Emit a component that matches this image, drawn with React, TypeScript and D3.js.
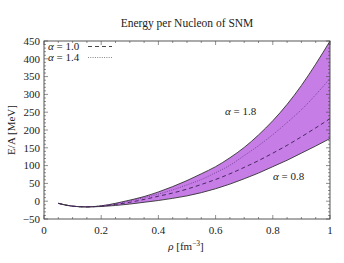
import React from "react";
import * as d3 from "d3";

const rho = [0.05, 0.1, 0.15, 0.2, 0.25, 0.3, 0.35, 0.4, 0.45, 0.5, 0.55, 0.6, 0.65, 0.7, 0.75, 0.8, 0.85, 0.9, 0.95, 1.0];
const alpha18 = [-6, -14, -16, -13, -6, 3, 13, 26, 41, 58, 77, 97, 122, 151, 186, 226, 272, 325, 385, 450];
const alpha14 = [-6, -14, -16, -13, -7, 1, 10, 20, 32, 46, 61, 80, 101, 128, 156, 187, 221, 257, 299, 345];
const alpha10 = [-6, -14, -16, -14, -9, -3, 5, 14, 23, 34, 47, 61, 77, 95, 114, 135, 157, 181, 206, 232];
const alpha08 = [-6, -14, -16, -15, -12, -8, -3, 2, 8, 15, 24, 35, 48, 63, 79, 97, 115, 135, 155, 176];

const xTicks = [0, 0.2, 0.4, 0.6, 0.8, 1];
const xTickLabels = ["0", "0.2", "0.4", "0.6", "0.8", "1"];
const yTicks = [-50, 0, 50, 100, 150, 200, 250, 300, 350, 400, 450];

const W = 344, H = 263;
const L = 44, R = 330, T = 41, B = 219;
const FONT = "'Liberation Serif', 'DejaVu Serif', serif";

export default function App() {
  const x = d3.scaleLinear().domain([0, 1]).range([L, R]);
  const y = d3.scaleLinear().domain([-50, 450]).range([B, T]);

  const pts = (vals: number[]) => rho.map((r, i) => [r, vals[i]] as [number, number]);
  const line = d3.line<[number, number]>().x(d => x(d[0])).y(d => y(d[1])).curve(d3.curveMonotoneX);
  const area = d3.area<number>()
    .x((_, i) => x(rho[i]))
    .y0((_, i) => y(alpha08[i]))
    .y1((_, i) => y(alpha18[i]))
    .curve(d3.curveMonotoneX);

  const xMinor = d3.range(0, 1.0001, 0.05).map(v => +v.toFixed(2));
  const yMinor = d3.range(-50, 450.001, 10);

  const axisColor = "#444";

  return (
    <svg width={W} height={H} style={{ position: "absolute", left: 0, top: 0 }} fontFamily={FONT}>
      <rect x={0} y={0} width={W} height={H} fill="white" />
      <text x={187} y={27} fontSize={11.5} textAnchor="middle" fill="#222">Energy per Nucleon of SNM</text>

      <path d={area(rho) || ""} fill="#c67de6" stroke="none" />
      <path d={line(pts(alpha18)) || ""} fill="none" stroke="#333" strokeWidth={0.9} />
      <path d={line(pts(alpha08)) || ""} fill="none" stroke="#333" strokeWidth={0.9} />
      <path d={line(pts(alpha10)) || ""} fill="none" stroke="#3a1f52" strokeWidth={0.9} strokeDasharray="4,3" />
      <path d={line(pts(alpha14)) || ""} fill="none" stroke="#5b2c7e" strokeWidth={0.7} strokeDasharray="1,1.3" />

      {xMinor.map((v, i) => {
        const major = xTicks.some(t => Math.abs(t - v) < 1e-6);
        const len = major ? 4 : 2;
        return (
          <g key={"xm" + i}>
            <line x1={x(v)} x2={x(v)} y1={B} y2={B - len} stroke={axisColor} strokeWidth={0.6} />
            <line x1={x(v)} x2={x(v)} y1={T} y2={T + len} stroke={axisColor} strokeWidth={0.6} />
          </g>
        );
      })}
      {yMinor.map((v, i) => {
        const major = yTicks.includes(v);
        const len = major ? 4 : 2;
        return (
          <g key={"ym" + i}>
            <line x1={L} x2={L + len} y1={y(v)} y2={y(v)} stroke={axisColor} strokeWidth={0.6} />
            <line x1={R} x2={R - len} y1={y(v)} y2={y(v)} stroke={axisColor} strokeWidth={0.6} />
          </g>
        );
      })}
      <rect x={L} y={T} width={R - L} height={B - T} fill="none" stroke={axisColor} strokeWidth={0.9} />

      {xTicks.map((v, i) => (
        <text key={"xl" + i} x={x(v)} y={234} fontSize={11} textAnchor="middle" fill="#222">{xTickLabels[i]}</text>
      ))}
      {yTicks.map((v, i) => (
        <text key={"yl" + i} x={40} y={y(v) + 3.8} fontSize={11} textAnchor="end" fill="#222">{v < 0 ? "\u2212" + Math.abs(v) : String(v)}</text>
      ))}

      <text x={186} y={250} fontSize={11} textAnchor="middle" fill="#222">
        <tspan fontStyle="italic">ρ</tspan> [fm<tspan dy={-4} fontSize={7.5}>−3</tspan><tspan dy={4}>]</tspan>
      </text>
      <text transform={`translate(15,${(T + B) / 2}) rotate(-90)`} fontSize={11} textAnchor="middle" fill="#222">E/A [MeV]</text>

      <text x={48} y={50} fontSize={11} fill="#222"><tspan fontStyle="italic">α</tspan> = 1.0</text>
      <line x1={88} x2={112} y1={46.5} y2={46.5} stroke="#333" strokeWidth={0.9} strokeDasharray="4,3" />
      <text x={48} y={61} fontSize={11} fill="#222"><tspan fontStyle="italic">α</tspan> = 1.4</text>
      <line x1={88} x2={112} y1={57.5} y2={57.5} stroke="#555" strokeWidth={0.7} strokeDasharray="1,1.3" />

      <text x={225} y={115} fontSize={11} fill="#222"><tspan fontStyle="italic">α</tspan> = 1.8</text>
      <text x={273} y={180} fontSize={11} fill="#222"><tspan fontStyle="italic">α</tspan> = 0.8</text>
    </svg>
  );
}
